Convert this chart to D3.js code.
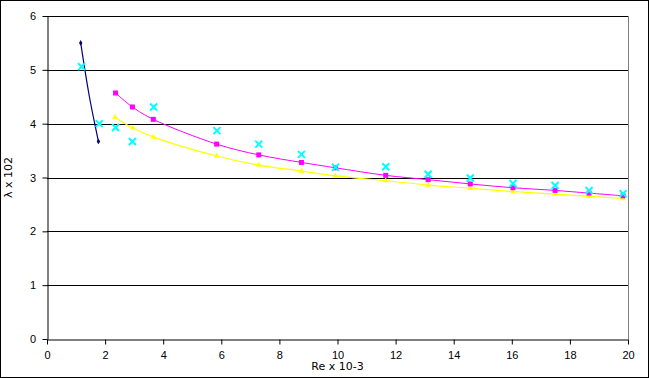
<!DOCTYPE html>
<html lang="en">
<head>
    <meta charset="UTF-8">
    <title>Friction factor vs Re</title>
    <style>
        body { margin: 0; background: #fff; }
        svg { display: block; font-family: "DejaVu Sans", sans-serif; }
        .tick text { font-size: 11px; fill: #000; }
    </style>
    <script src="https://d3js.org/d3.v7.min.js"></script>
</head>
<body>
    <svg width="649" height="378"></svg>
    <script>
        // navy series (3 readings)
        const navyX = [1.16, 1.46, 1.77];
        const navyY = [5.50, 4.50, 3.67];
        // magenta series
        const magX = [2.36, 2.94, 3.66, 5.84, 7.29, 8.76, 9.93, 11.66, 13.12, 14.57, 16.04, 17.49, 18.66, 19.83];
        const magY = [4.57, 4.31, 4.08, 3.62, 3.42, 3.28, 3.18, 3.04, 2.96, 2.88, 2.81, 2.76, 2.71, 2.66];
        // yellow series
        const yelX = [2.34, 2.95, 3.67, 5.84, 7.29, 8.76, 9.93, 11.66, 13.12, 14.57, 16.04, 17.49, 18.66, 19.83];
        const yelY = [4.12, 3.92, 3.75, 3.40, 3.23, 3.12, 3.03, 2.94, 2.86, 2.80, 2.74, 2.69, 2.65, 2.61];
        // cyan measured points
        const cyanX = [1.19, 1.80, 2.36, 2.94, 3.67, 5.85, 7.29, 8.76, 9.93, 11.66, 13.12, 14.57, 16.04, 17.49, 18.66, 19.83];
        const cyanY = [5.06, 4.00, 3.93, 3.67, 4.31, 3.87, 3.62, 3.43, 3.19, 3.20, 3.06, 2.99, 2.89, 2.85, 2.76, 2.70];

        const xTicks = d3.range(0, 21, 2);
        const yTicks = d3.range(0, 7, 1);

        (function draw() {
        const svg = d3.select("svg");
        const W = 649, H = 378;
        const left = 47, right = 628, top = 16, bottom = 339;

        svg.append("rect")
            .attr("x", 0.5).attr("y", 0.5)
            .attr("width", W - 1).attr("height", H - 1)
            .attr("fill", "#fff").attr("stroke", "#000");

        const x = d3.scaleLinear().domain([0, 20]).range([left, right]);
        const y = d3.scaleLinear().domain([0, 6]).range([bottom, top]);

        // gridlines
        svg.append("g")
            .selectAll("line")
            .data(yTicks.filter(d => d > 0))
            .enter().append("line")
            .attr("x1", left).attr("x2", right)
            .attr("y1", d => Math.round(y(d)) + 0.5)
            .attr("y2", d => Math.round(y(d)) + 0.5)
            .attr("stroke", "#000");

        // right border
        svg.append("line")
            .attr("x1", right + 0.5).attr("x2", right + 0.5)
            .attr("y1", top).attr("y2", bottom)
            .attr("stroke", "#808080");

        const xAxis = svg.append("g")
            .attr("transform", `translate(0,${bottom + 0.5})`)
            .call(d3.axisBottom(x).tickValues(xTicks).tickFormat(d3.format("d")).tickSize(5).tickSizeOuter(0));
        const yAxis = svg.append("g")
            .attr("transform", `translate(${left + 0.5},0)`)
            .call(d3.axisLeft(y).tickValues(yTicks).tickFormat(d3.format("d")).tickSize(5).tickSizeOuter(0));
        xAxis.select(".domain").attr("stroke", "#000");
        yAxis.select(".domain").attr("stroke", "#000");
        xAxis.selectAll(".tick text").attr("dy", "1em");
        yAxis.selectAll(".tick text").attr("dx", "-0.3em");

        svg.append("text")
            .attr("x", (left + right) / 2).attr("y", 370)
            .attr("text-anchor", "middle")
            .attr("font-size", 11)
            .text("Re x 10-3");

        svg.append("text")
            .attr("transform", `translate(12,${(top + bottom) / 2}) rotate(-90)`)
            .attr("text-anchor", "middle")
            .attr("font-size", 11)
            .text("λ x 102");

        const line = d3.line()
            .x(d => x(d[0]))
            .y(d => y(d[1]))
            .curve(d3.curveCatmullRom.alpha(0.5));

        function series(xs, ys) { return xs.map((v, i) => [v, ys[i]]); }

        const navy = series(navyX, navyY);
        const mag = series(magX, magY);
        const yel = series(yelX, yelY);
        const cyan = series(cyanX, cyanY);

        svg.append("path").datum(yel)
            .attr("d", line).attr("fill", "none")
            .attr("stroke", "#ffff00").attr("stroke-width", 1.2);
        svg.append("path").datum(mag)
            .attr("d", line).attr("fill", "none")
            .attr("stroke", "#ff00ff").attr("stroke-width", 1);
        svg.append("path").datum(navy)
            .attr("d", line).attr("fill", "none")
            .attr("stroke", "#000080").attr("stroke-width", 1.2);

        // markers
        svg.append("g").selectAll("path")
            .data(yel)
            .enter().append("path")
            .attr("d", d3.symbol(d3.symbolTriangle, 14))
            .attr("transform", d => `translate(${x(d[0])},${y(d[1])})`)
            .attr("fill", "#ffff00");

        svg.append("g").selectAll("rect")
            .data(mag)
            .enter().append("rect")
            .attr("x", d => x(d[0]) - 2.5).attr("y", d => y(d[1]) - 2.5)
            .attr("width", 5).attr("height", 5)
            .attr("fill", "#ff00ff");

        svg.append("g").selectAll("path")
            .data([navy[0], navy[navy.length - 1]])
            .enter().append("path")
            .attr("d", d3.symbol(d3.symbolDiamond, 10))
            .attr("transform", d => `translate(${x(d[0])},${y(d[1])})`)
            .attr("fill", "#000080");

        svg.append("g").selectAll("path")
            .data(cyan)
            .enter().append("path")
            .attr("d", "M-3.5,-3.5L3.5,3.5M-3.5,3.5L3.5,-3.5")
            .attr("transform", d => `translate(${x(d[0])},${y(d[1])})`)
            .attr("stroke", "#00ffff").attr("stroke-width", 2)
            .attr("fill", "none");
        })();
    </script>
</body>
</html>
